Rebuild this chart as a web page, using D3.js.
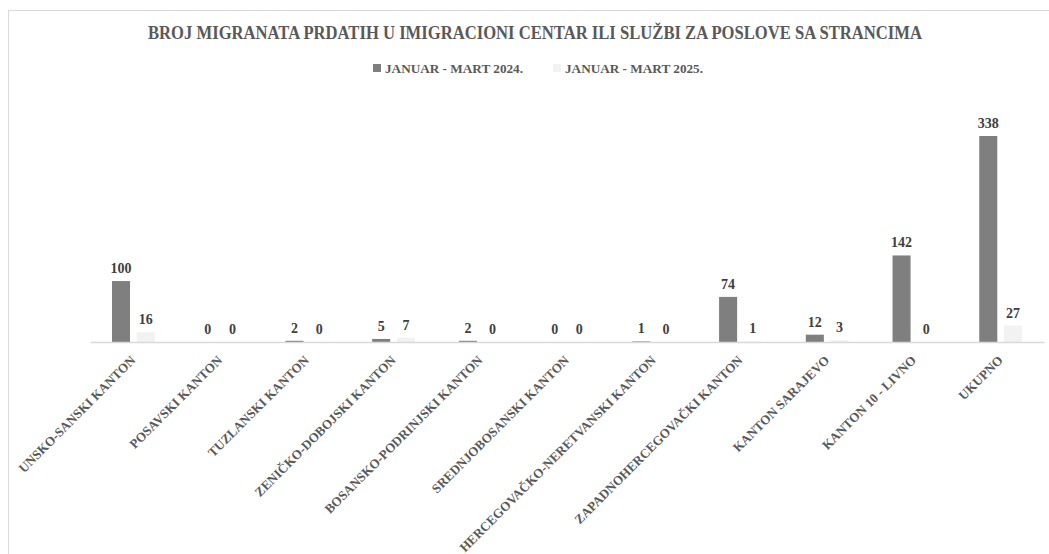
<!DOCTYPE html>
<html>
<head>
<meta charset="utf-8">
<script src="https://cdn.jsdelivr.net/npm/d3@7"></script>
<style>
  html, body { margin: 0; padding: 0; background: #fff; }
  svg { display: block; }
</style>
</head>
<body>
<svg id="chart" width="1049" height="554"></svg>
<script>
// Cantons and the number of migrants handed over in each period
const categories = [
  "UNSKO-SANSKI KANTON",
  "POSAVSKI KANTON",
  "TUZLANSKI KANTON",
  "ZENIČKO-DOBOJSKI KANTON",
  "BOSANSKO-PODRINJSKI KANTON",
  "SREDNJOBOSANSKI KANTON",
  "HERCEGOVAČKO-NERETVANSKI KANTON",
  "ZAPADNOHERCEGOVAČKI KANTON",
  "KANTON SARAJEVO",
  "KANTON 10 - LIVNO",
  "UKUPNO"
];
const seriesNames = ["JANUAR - MART 2024.", "JANUAR - MART 2025."];
const values2024 = [100, 0, 2, 5, 2, 0, 1, 74, 12, 142, 338];
const values2025 = [16, 0, 0, 7, 0, 0, 0, 1, 3, 0, 27];

const colors = ["#7f7f7f", "#f2f2f2"];
const serif = "'Liberation Serif', 'DejaVu Serif', serif";

const svg = d3.select("#chart");
const W = 1049, H = 554;

// chart frame
svg.append("rect")
  .attr("x", 8.5).attr("y", 10.5)
  .attr("width", W + 10).attr("height", H + 10)
  .attr("fill", "#fff").attr("stroke", "#d9d9d9").attr("stroke-width", 1);

const plot = { left: 90, right: 1044, top: 100, bottom: 342 };

const x0 = d3.scaleBand().domain(categories).range([plot.left, plot.right]).padding(0);
const x1 = d3.scaleBand().domain(seriesNames).range([0, x0.bandwidth()]).paddingInner(0.27).paddingOuter(0.89);
const y = d3.scaleLinear().domain([0, 338]).range([plot.bottom, 136]);

const rows = categories.map((c, i) => ({ cat: c, vals: [values2024[i], values2025[i]] }));

// bars
const groups = svg.append("g").selectAll("g").data(rows).join("g")
  .attr("transform", d => `translate(${x0(d.cat)},0)`);

groups.selectAll("rect").data(d => d.vals.map((v, k) => ({ v, k })))
  .join("rect")
  .attr("x", d => x1(seriesNames[d.k]))
  .attr("width", x1.bandwidth())
  .attr("y", d => y(d.v))
  .attr("height", d => plot.bottom - y(d.v))
  .attr("fill", d => colors[d.k]);

// value labels
groups.selectAll("text").data(d => d.vals.map((v, k) => ({ v, k })))
  .join("text")
  .attr("x", d => x1(seriesNames[d.k]) + x1.bandwidth() / 2)
  .attr("y", d => y(d.v) - 8)
  .attr("text-anchor", "middle")
  .attr("font-family", serif)
  .attr("font-weight", "bold")
  .attr("font-size", 14)
  .attr("fill", "#404040")
  .text(d => d.v);

// category axis
const xAxis = svg.append("g")
  .attr("transform", `translate(0,${plot.bottom})`)
  .call(d3.axisBottom(x0).tickSize(0).tickPadding(0));
xAxis.select(".domain").attr("stroke", "#d9d9d9").attr("stroke-width", 1.3);
xAxis.selectAll(".tick text")
  .attr("font-family", serif)
  .attr("font-weight", "bold")
  .attr("font-size", 13)
  .attr("fill", "#595959")
  .attr("text-anchor", "end")
  .attr("dy", 0)
  .attr("transform", "translate(3,19) rotate(-45)");

// title
svg.append("text")
  .attr("x", 535).attr("y", 39)
  .attr("text-anchor", "middle")
  .attr("font-family", serif)
  .attr("font-weight", "bold")
  .attr("font-size", 18)
  .attr("fill", "#595959")
  .attr("textLength", 774)
  .attr("lengthAdjust", "spacingAndGlyphs")
  .text("BROJ MIGRANATA PRDATIH U IMIGRACIONI CENTAR ILI SLUŽBI ZA POSLOVE SA STRANCIMA");

// legend
const legendX = [373, 553];
const legend = svg.append("g").selectAll("g").data(seriesNames).join("g")
  .attr("transform", (d, i) => `translate(${legendX[i]},64)`);
legend.append("rect")
  .attr("width", 8).attr("height", 8)
  .attr("fill", (d, i) => colors[i]);
legend.append("text")
  .attr("x", 12).attr("y", 9)
  .attr("font-family", serif)
  .attr("font-weight", "bold")
  .attr("font-size", 13)
  .attr("fill", "#595959")
  .attr("textLength", 138)
  .attr("lengthAdjust", "spacingAndGlyphs")
  .text(d => d);
</script>
</body>
</html>
